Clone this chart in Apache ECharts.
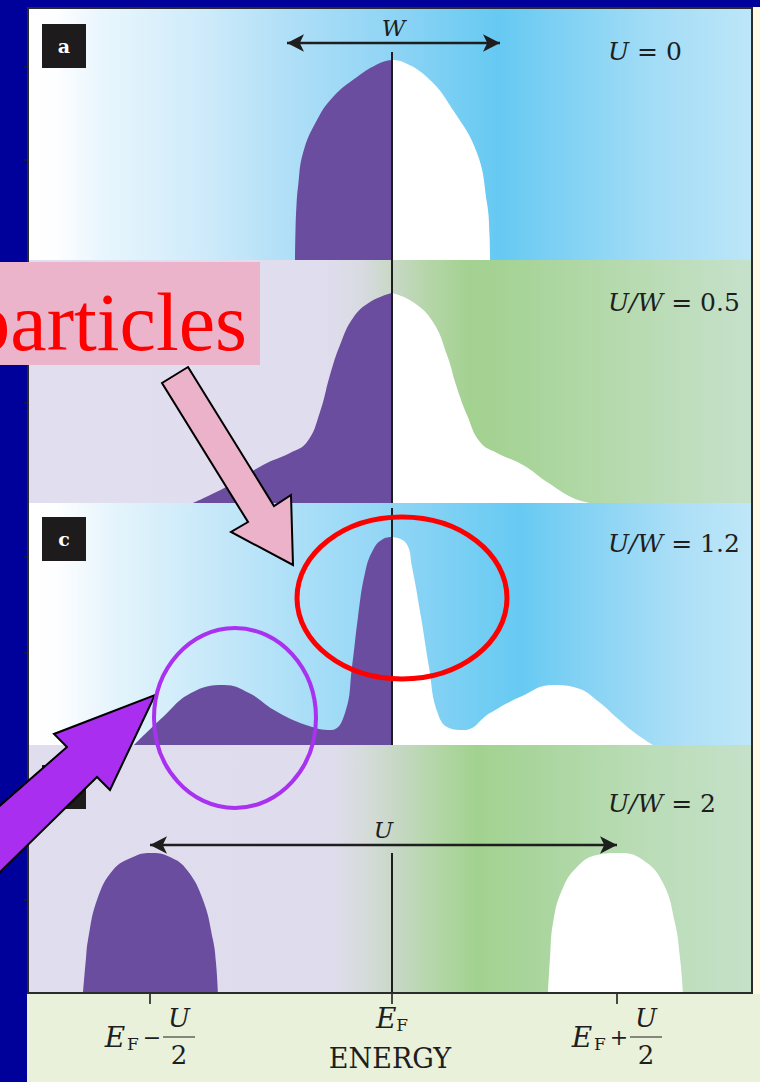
<!DOCTYPE html>
<html>
<head>
<meta charset="utf-8">
<title>Spectral function of the Hubbard model for increasing U/W</title>
<style>
  html, body { margin: 0; padding: 0; background: #00009a; }
  #chart { width: 760px; height: 1082px; }
</style>
<script src="https://cdn.jsdelivr.net/npm/echarts@6/dist/echarts.min.js"></script>
</head>
<body>
<div id="chart"></div>
<script>
// ---------------------------------------------------------------------------
// Data: energy is measured from the Fermi level E_F (arbitrary units),
// the density of states is in arbitrary units above each panel's baseline.
// ---------------------------------------------------------------------------
const energyRange = [-3.64, 3.60];
const tickEnergies = [-2.42, 0, 2.25];
const tickLabels = ['EF−U/2', 'EF', 'EF+U/2'];
const axisTitle = 'ENERGY';

const panelLetters = ['a', 'b', 'c', 'd'];
const panelTitles = [['U', ' = 0'], ['U/W', ' = 0.5'], ['U/W', ' = 1.2'], ['U/W', ' = 2']];
const panelMaxDos = [2.52, 2.43, 2.42, 2.48];
const panelSideTicks = [[1.00, 1.93], [1.00, 1.93], [0.92, 1.88], [0.93, 1.86]];
const fermiLineTop = [2.08, 2.43, 2.37, 1.40];

// a: U = 0, single half-filled band
const occupiedA = [[-0.97, 0], [-0.965, 0.30], [-0.955, 0.55], [-0.94, 0.73], [-0.89, 1.07],
  [-0.75, 1.40], [-0.59, 1.63], [-0.35, 1.83], [-0.12, 1.97], [0, 2.00]];
const emptyA = [[0, 2.00], [0.11, 1.98], [0.38, 1.80], [0.61, 1.50], [0.85, 1.07],
  [0.95, 0.57], [0.975, 0.25], [0.98, 0]];

// b: U/W = 0.5, quasiparticle band with shoulders
const occupiedB = [[-1.99, 0], [-1.62, 0.18], [-1.29, 0.38], [-1.02, 0.50], [-0.85, 0.61],
  [-0.72, 0.91], [-0.62, 1.28], [-0.52, 1.58], [-0.39, 1.85], [-0.22, 2.01], [0, 2.10]];
const emptyB = [[0, 2.10], [0.21, 2.01], [0.41, 1.81], [0.55, 1.48], [0.65, 1.15], [0.75, 0.88],
  [0.88, 0.61], [1.05, 0.50], [1.31, 0.38], [1.55, 0.21], [1.81, 0.05], [1.98, 0]];

// c: U/W = 1.2, narrow quasiparticle peak plus Hubbard bands
const occupiedC = [[-2.58, 0], [-2.29, 0.28], [-2.01, 0.52], [-1.68, 0.60], [-1.43, 0.52],
  [-1.18, 0.35], [-0.86, 0.20], [-0.61, 0.15], [-0.47, 0.32], [-0.40, 0.78], [-0.34, 1.28],
  [-0.27, 1.72], [-0.19, 1.95], [-0.09, 2.06], [0, 2.08]];
const emptyC = [[0, 2.08], [0.14, 2.02], [0.20, 1.78], [0.29, 1.28], [0.37, 0.78], [0.45, 0.34],
  [0.57, 0.17], [0.72, 0.15], [0.98, 0.32], [1.28, 0.48], [1.61, 0.60], [1.85, 0.57],
  [2.07, 0.43], [2.25, 0.27], [2.43, 0.12], [2.61, 0]];

// d: U/W = 2, Mott insulator: lower and upper Hubbard bands only
const occupiedD = [[-3.09, 0], [-3.06, 0.35], [-3.04, 0.53], [-2.95, 0.93], [-2.79, 1.23],
  [-2.59, 1.36], [-2.42, 1.40], [-2.22, 1.36], [-2.05, 1.23], [-1.89, 0.93], [-1.79, 0.53],
  [-1.76, 0.30], [-1.74, 0]];
const emptyD = [[1.56, 0], [1.58, 0.35], [1.61, 0.70], [1.70, 1.03], [1.85, 1.26], [2.05, 1.38],
  [2.28, 1.40], [2.51, 1.33], [2.71, 1.10], [2.83, 0.70], [2.88, 0.35], [2.91, 0]];

const occupied = [occupiedA, occupiedB, occupiedC, occupiedD];
const empty = [emptyA, emptyB, emptyC, emptyD];

// Width markers drawn as double-headed arrows
const widthArrows = [
  { panel: 0, from: -1.05, to: 1.08, dos: 2.17, label: 'W' },
  { panel: 3, from: -2.42, to: 2.25, dos: 1.48, label: 'U' }
];

// ---------------------------------------------------------------------------
// Styling and layout
// ---------------------------------------------------------------------------
const SERIF = "'DejaVu Serif', 'Liberation Serif', serif";
const INK = '#1e1e1e';
const FILLED = '#6a4d9f';
const EMPTY = '#ffffff';

const gridBoxes = [
  { top: 8, height: 252 },
  { top: 260, height: 243 },
  { top: 503, height: 242 },
  { top: 745, height: 248 }
];

function hGrad(stops) {
  return {
    type: 'linear', x: 0, y: 0, x2: 1, y2: 0,
    colorStops: stops.map(([offset, color]) => ({ offset, color }))
  };
}
const blueA = hGrad([[0, '#ffffff'], [0.04, '#fdfeff'], [0.10, '#e9f6fd'], [0.24, '#cfebfa'],
  [0.36, '#b0dff7'], [0.49, '#92d5f5'], [0.60, '#74cdf3'], [0.65, '#66c9f2'],
  [0.74, '#80d1f4'], [0.86, '#a2dcf6'], [1, '#bde6f8']]);
const blueC = hGrad([[0, '#ffffff'], [0.04, '#fdfeff'], [0.12, '#e4f4fc'], [0.26, '#c6e8f9'],
  [0.40, '#a6ddf7'], [0.52, '#8cd4f5'], [0.63, '#72cdf3'], [0.68, '#67caf2'],
  [0.78, '#88d3f4'], [0.90, '#acdff7'], [1, '#bfe7f8']]);
const greenB = hGrad([[0, '#e1deef'], [0.41, '#e0ddee'], [0.46, '#d8dbe2'], [0.50, '#c9d8c7'],
  [0.55, '#b6d6aa'], [0.61, '#a3d190'], [0.68, '#a7d498'], [0.82, '#b6daae'], [1, '#c6e1cb']]);
const greenD = hGrad([[0, '#e0deee'], [0.42, '#dfdded'], [0.47, '#d4dbd8'], [0.51, '#c6d8c4'],
  [0.57, '#b1d6a4'], [0.62, '#a2d28f'], [0.70, '#a9d59d'], [0.84, '#b9dcb5'], [1, '#c5e1c9']]);
const panelBackgrounds = [blueA, greenB, blueC, greenD];

function tickRich(label) {
  const m = label.match(/^EF(?:([−+])(\w)\/(\d))?$/);
  if (!m || !m[1]) return '{E|E}{F|F}';
  return '{pad1|}{num|' + m[2] + '}\n{Eb|E}{Fb|F}{op|' + m[1] + '}{hr|}\n{pad3|}{den|' + m[3] + '}';
}

const grids = gridBoxes.map((g, i) => ({
  left: 28, right: 8, top: g.top, height: g.height,
  outerBoundsMode: 'none', containLabel: false,
  show: true, borderWidth: 0, backgroundColor: panelBackgrounds[i]
}));

const xAxes = gridBoxes.map((g, i) => {
  const last = i === gridBoxes.length - 1;
  return {
    type: 'value', gridIndex: i, min: energyRange[0], max: energyRange[1],
    show: last,
    axisLine: { show: false, onZero: false },
    splitLine: { show: false },
    axisTick: {
      show: last, inside: false, length: 11, customValues: tickEnergies,
      lineStyle: { color: INK, width: 1.6 }
    },
    axisLabel: {
      show: last, customValues: tickEnergies, margin: 12, color: INK,
      formatter: (v) => tickRich(tickLabels[tickEnergies.indexOf(v)] || ''),
      rich: {
        E: { fontFamily: SERIF, fontStyle: 'italic', fontSize: 28, lineHeight: 26, color: INK },
        F: { fontFamily: SERIF, fontSize: 17, lineHeight: 26, padding: [14, 0, 0, 0], color: INK },
        pad1: { width: 58, lineHeight: 26 },
        num: { fontFamily: SERIF, fontStyle: 'italic', fontSize: 26, width: 32, align: 'center',
               lineHeight: 18, verticalAlign: 'bottom', color: INK },
        Eb: { fontFamily: SERIF, fontStyle: 'italic', fontSize: 28, width: 20, align: 'right',
              lineHeight: 12, color: INK },
        Fb: { fontFamily: SERIF, fontSize: 17, width: 16, align: 'left', lineHeight: 12,
              padding: [14, 0, 0, 0], color: INK },
        op: { fontFamily: SERIF, fontSize: 22, width: 22, align: 'center', lineHeight: 12, color: INK },
        hr: { width: 32, height: 0, lineHeight: 12, borderColor: INK, borderWidth: 1.2 },
        pad3: { width: 58, lineHeight: 24 },
        den: { fontFamily: SERIF, fontSize: 26, width: 32, align: 'center', lineHeight: 24, color: INK }
      }
    },
    name: last ? axisTitle : '',
    nameLocation: 'middle',
    nameGap: 52,
    nameMoveOverlap: false,
    nameTextStyle: { fontFamily: SERIF, fontSize: 27, color: INK }
  };
});

const yAxes = gridBoxes.map((g, i) => ({
  type: 'value', gridIndex: i, min: 0, max: panelMaxDos[i],
  axisLine: { show: false, onZero: false },
  splitLine: { show: false },
  axisLabel: { show: false },
  axisTick: {
    show: true, inside: false, length: 4, customValues: panelSideTicks[i],
    lineStyle: { color: INK, width: 1.5 }
  }
}));

const series = [];
for (let i = 0; i < 4; i++) {
  const arrows = widthArrows.filter(a => a.panel === i);
  series.push({
    type: 'line', name: 'occupied-' + panelLetters[i],
    xAxisIndex: i, yAxisIndex: i, data: occupied[i],
    smooth: 0.45, symbol: 'none', silent: true,
    lineStyle: { width: 0 },
    areaStyle: { color: FILLED, opacity: 1 },
    markLine: {
      silent: true, symbol: 'none', animation: false,
      label: { show: false },
      lineStyle: { color: INK, width: 2, type: 'solid' },
      data: [[{ coord: [0, 0] }, { coord: [0, fermiLineTop[i]] }]]
    }
  });
  series.push({
    type: 'line', name: 'empty-' + panelLetters[i],
    xAxisIndex: i, yAxisIndex: i, data: empty[i],
    smooth: 0.45, symbol: 'none', silent: true,
    lineStyle: { width: 0 },
    areaStyle: { color: EMPTY, opacity: 1 },
    markLine: arrows.length ? {
      silent: true, animation: false,
      symbol: ['arrow', 'arrow'], symbolSize: [13, 17],
      lineStyle: { color: INK, width: 2.4, type: 'solid' },
      label: {
        show: true, position: 'middle', distance: 4,
        fontFamily: SERIF, fontStyle: 'italic', fontSize: 23, color: INK,
        formatter: arrows[0].label
      },
      data: arrows.map(a => [{ coord: [a.from, a.dos] }, { coord: [a.to, a.dos] }])
    } : undefined
  });
}

// Panel letters, parameter captions, frame and highlighting annotations
const letterTops = [24, null, 517, 765];   // the "b" tag sits under the caption box
const captionCenters = [51, 302, 543, 803];
const graphics = [
  { type: 'rect', z: -20, shape: { x: 27, y: 7, width: 733, height: 1075 }, style: { fill: '#e9f1da' } },
  { type: 'rect', z: -19, shape: { x: 752, y: 7, width: 8, height: 987 }, style: { fill: '#fdf9e2' } },
  { type: 'rect', z: 40, shape: { x: 28, y: 8, width: 724, height: 985 },
    style: { fill: null, stroke: '#2b2b2b', lineWidth: 2 } }
];
panelLetters.forEach((letter, i) => {
  if (letterTops[i] !== null) {
    graphics.push({ type: 'rect', z: 45, shape: { x: 42, y: letterTops[i], width: 44, height: 44 },
      style: { fill: '#1d1b1b' } });
    graphics.push({ type: 'text', z: 46, x: 64, y: letterTops[i] + 22,
      style: { text: letter, fill: '#ffffff', fontFamily: SERIF, fontWeight: 'bold', fontSize: 19,
               align: 'center', verticalAlign: 'middle' } });
  }
  graphics.push({ type: 'text', z: 46, x: 608, y: captionCenters[i],
    style: {
      text: '{i|' + panelTitles[i][0] + '}{n|' + panelTitles[i][1] + '}',
      fill: INK, fontFamily: SERIF, fontSize: 25, verticalAlign: 'middle', align: 'left',
      rich: {
        i: { fontFamily: SERIF, fontStyle: 'italic', fontSize: 25, fill: INK },
        n: { fontFamily: SERIF, fontSize: 25, fill: INK }
      }
    } });
});
graphics.push(
  { type: 'rect', z: 100, shape: { x: 0, y: 262, width: 260, height: 103 }, style: { fill: '#ecb4cb' } },
  { type: 'text', z: 101, x: 247, y: 322,
    style: { text: 'particles', fill: '#ff0000', fontFamily: "'Liberation Serif', serif",
             fontSize: 82, align: 'right', verticalAlign: 'middle' } },
  { type: 'polygon', z: 102,
    shape: { points: [[188, 367], [274, 506], [291, 495], [293, 565], [231, 532], [248, 522], [162, 383]] },
    style: { fill: '#ebb2ca', stroke: '#000000', lineWidth: 2 } },
  { type: 'ellipse', z: 103, shape: { cx: 402, cy: 598, rx: 105, ry: 81 },
    style: { fill: null, stroke: '#ff0000', lineWidth: 5 } },
  { type: 'polygon', z: 102,
    shape: { points: [[155, 695], [110, 790], [97, 777], [-5, 877], [-5, 810], [67, 747], [54, 734]] },
    style: { fill: '#aa2ef0', stroke: '#000000', lineWidth: 2 } },
  { type: 'ellipse', z: 103, shape: { cx: 235, cy: 718, rx: 81, ry: 90 },
    style: { fill: null, stroke: '#a931f0', lineWidth: 4 } }
);

const chart = echarts.init(document.getElementById('chart'), null, { renderer: 'svg' });
chart.setOption({
  backgroundColor: '#00009a',
  animation: false,
  grid: grids,
  xAxis: xAxes,
  yAxis: yAxes,
  series: series,
  graphic: graphics
});
</script>
</body>
</html>
